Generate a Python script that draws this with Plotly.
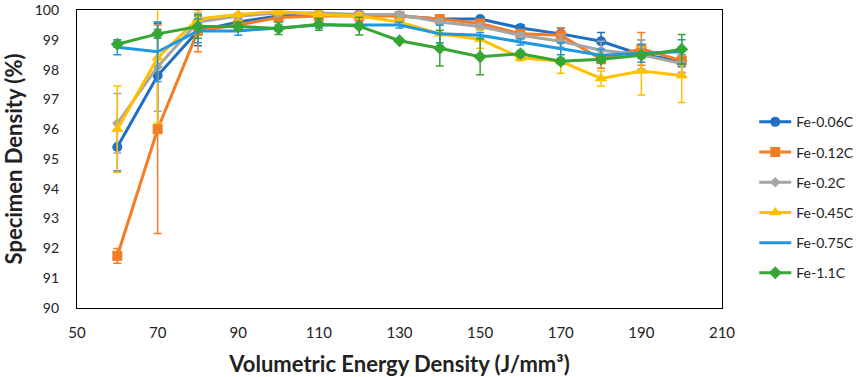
import plotly.graph_objects as go

energy = [60, 70, 80, 90, 100, 110, 120, 130, 140, 150, 160, 170, 180, 190, 200]

series_names = ["Fe-0.06C", "Fe-0.12C", "Fe-0.2C", "Fe-0.45C", "Fe-0.75C", "Fe-1.1C"]

d_006 = [95.4, 97.8, 99.3, 99.6, 99.8, 99.85, 99.85, 99.8, 99.7, 99.7, 99.4, 99.2, 98.95, 98.5, 98.3]
d_012 = [91.75, 96.0, 99.3, 99.5, 99.75, 99.8, 99.8, 99.8, 99.7, 99.55, 99.2, 99.15, 98.35, 98.7, 98.3]
d_020 = [96.2, 98.1, 99.6, 99.8, 99.9, 99.9, 99.85, 99.85, 99.6, 99.45, 99.15, 98.95, 98.65, 98.5, 98.2]
d_045 = [96.0, 98.4, 99.7, 99.85, 99.95, 99.85, 99.8, 99.6, 99.2, 99.02, 98.4, 98.28, 97.7, 97.95, 97.8]
d_075 = [98.75, 98.6, 99.3, 99.3, 99.4, 99.5, 99.5, 99.5, 99.2, 99.15, 98.93, 98.7, 98.48, 98.55, 98.6]
d_110 = [98.85, 99.2, 99.45, 99.45, 99.38, 99.52, 99.46, 98.97, 98.72, 98.43, 98.53, 98.28, 98.35, 98.48, 98.68]

e_006 = [0.8, 1.75, 0.5, 0.15, 0.1, 0.1, 0.05, 0.1, 0.1, 0.05, 0.1, 0.2, 0.3, 0.5, 0.2]
e_012 = [0.25, 3.5, 0.7, 0.2, 0.1, 0.1, 0.1, 0.1, 0.1, 0.1, 0.1, 0.25, 0.3, 0.55, 0.4]
e_020 = [1.0, 1.5, 0.3, 0.1, 0.1, 0.1, 0.1, 0.1, 0.1, 0.1, 0.1, 0.2, 0.3, 0.5, 0.3]
e_045 = [1.45, 2.2, 0.3, 0.2, 0.1, 0.1, 0.1, 0.1, 0.3, 0.3, 0.1, 0.4, 0.25, 0.8, 0.9]
e_075 = [0.25, 1.0, 0.4, 0.15, 0.1, 0.1, 0.1, 0.1, 0.3, 0.1, 0.1, 0.2, 0.2, 0.3, 0.4]
e_110 = [0.1, 0.15, 0.4, 0.15, 0.2, 0.2, 0.3, 0.05, 0.6, 0.6, 0.1, 0.1, 0.1, 0.1, 0.5]

x_ticks = [50, 70, 90, 110, 130, 150, 170, 190, 210]
y_ticks = [90, 91, 92, 93, 94, 95, 96, 97, 98, 99, 100]

values = [d_006, d_012, d_020, d_045, d_075, d_110]
errors = [e_006, e_012, e_020, e_045, e_075, e_110]
colors = ["#1F6FC4", "#F47C24", "#A5A5A5", "#FFC000", "#1E98E0", "#36A635"]
symbols = ["circle", "square", "diamond", "triangle-up", None, "diamond"]
msizes = [10, 10, 8, 11, 0, 10]

fig = go.Figure()
for i, name in enumerate(series_names):
    marker = dict(color=colors[i], size=msizes[i])
    if symbols[i]:
        marker["symbol"] = symbols[i]
    fig.add_trace(go.Scatter(
        x=energy, y=values[i], name=name,
        mode="lines+markers" if symbols[i] else "lines",
        line=dict(color=colors[i], width=3),
        marker=marker,
        error_y=dict(type="data", array=errors[i], visible=True,
                     color=colors[i], thickness=1.5, width=4),
        legendgroup=name,
    ))

font_family = "Lato, Carlito, 'Open Sans', sans-serif"
fig.update_layout(
    width=858, height=377,
    margin=dict(l=77, r=136, t=10, b=69, autoexpand=False),
    paper_bgcolor="white", plot_bgcolor="white",
    font=dict(family=font_family, size=14, color="#222"),
    showlegend=True,
    legend=dict(x=1.05, y=0.37, xanchor="left", yanchor="middle",
                traceorder="grouped", tracegroupgap=9, itemwidth=32,
                font=dict(size=14, color="#222"), bgcolor="rgba(0,0,0,0)"),
    xaxis=dict(range=[49.999, 210.001], tickvals=x_ticks, ticks="", showgrid=False,
               zeroline=False, showline=True, linecolor="black", linewidth=1.2,
               mirror=True, tickfont=dict(size=15), automargin=False,
               ticklabelstandoff=11, ticklabeloverflow="allow",
               title=dict(text="<b>Volumetric Energy Density (J/mm³)</b>",
                          font=dict(size=22), standoff=18)),
    yaxis=dict(range=[89.999, 100.001], tickvals=y_ticks, ticks="", showgrid=False,
               zeroline=False, showline=True, linecolor="black", linewidth=1.2,
               mirror=True, tickfont=dict(size=14), automargin=False,
               ticklabelstandoff=14, ticklabeloverflow="allow",
               title=dict(text="<b>Specimen Density (%)</b>",
                          font=dict(size=22), standoff=17)),
)

fig.write_html(
    "out.html",
    config={"displayModeBar": False},
    post_script="document.body.style.margin='0';document.body.style.overflow='hidden';",
)
